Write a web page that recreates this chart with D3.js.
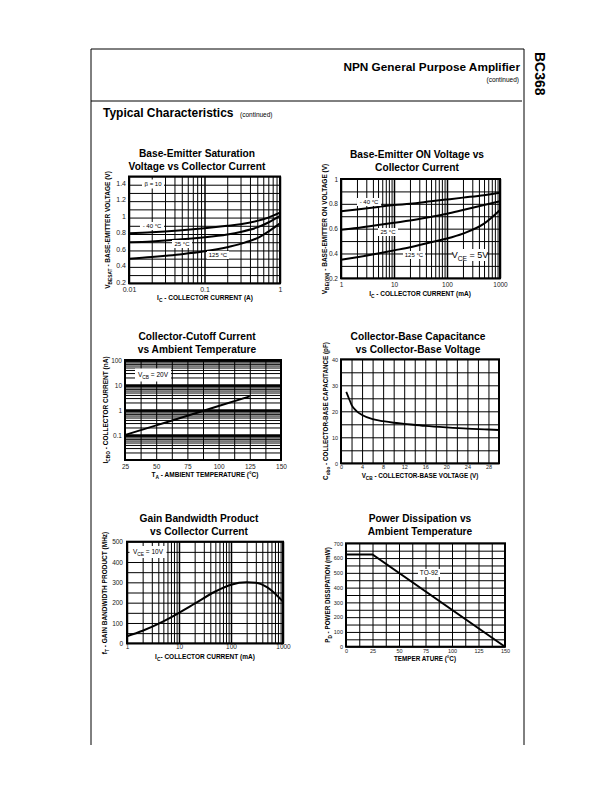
<!DOCTYPE html>
<html><head><meta charset="utf-8">
<script src="https://cdn.jsdelivr.net/npm/d3@7"></script>
<style>
html,body{margin:0;padding:0;background:#fff;}
svg{display:block;font-family:"Liberation Sans",Arial,Helvetica,sans-serif;}
</style></head>
<body>
<svg id="page" width="612" height="792"></svg>
<script>
// ---------- DATA ----------
// Chart 1: Base-Emitter Saturation Voltage vs Collector Current (A)
const c1Current = [0.01,0.02,0.03,0.05,0.1,0.2,0.3,0.5,0.7,1];
const c1VbeM40  = [0.81,0.82,0.83,0.845,0.87,0.9,0.92,0.96,1.0,1.06];
const c1Vbe25   = [0.70,0.71,0.72,0.735,0.76,0.795,0.825,0.88,0.94,1.02];
const c1Vbe125  = [0.50,0.52,0.535,0.555,0.59,0.64,0.68,0.75,0.83,0.93];
const c1YTicks  = [0.2,0.4,0.6,0.8,1,1.2,1.4];
const c1XTicks  = [0.01,0.1,1];

// Chart 2: Base-Emitter ON Voltage vs Collector Current (mA)
const c2Current = [1,2,5,10,20,50,100,200,500,1000];
const c2VbeM40  = [0.74,0.755,0.775,0.79,0.80,0.82,0.835,0.85,0.87,0.89];
const c2Vbe25   = [0.59,0.605,0.63,0.648,0.665,0.695,0.72,0.75,0.79,0.82];
const c2Vbe125  = [0.35,0.37,0.40,0.425,0.45,0.49,0.52,0.56,0.64,0.75];
const c2YTicks  = [0.2,0.4,0.6,0.8,1];
const c2XTicks  = [1,10,100,1000];

// Chart 3: Collector-Cutoff Current vs Ambient Temperature
const c3Temp    = [25,50,75,100,125];
const c3Icbo    = [0.1,0.243,0.59,1.44,3.5];
const c3YTicks  = [0.1,1,10,100];
const c3XTicks  = [25,50,75,100,125,150];

// Chart 4: Collector-Base Capacitance vs Collector-Base Voltage
const c4Vcb     = [1,1.5,2,3,4,6,8,10,12,16,20,24,28,30];
const c4Cobo    = [27.5,25,22.5,20,18.6,17,16.2,15.6,15.2,14.4,13.8,13.3,13,12.8];
const c4YTicks  = [0,10,20,30,40];
const c4XTicks  = [0,4,8,12,16,20,24,28];

// Chart 5: Gain Bandwidth Product vs Collector Current (mA)
const c5Current = [1,2,5,10,20,50,100,200,300,500,700,1000];
const c5Ft      = [35,62,108,150,195,255,288,300,298,275,245,205];
const c5YTicks  = [0,100,200,300,400,500];
const c5XTicks  = [1,10,100,1000];

// Chart 6: Power Dissipation vs Ambient Temperature
const c6Temp    = [0,25,150];
const c6Pd      = [625,625,0];
const c6YTicks  = [0,100,200,300,400,500,600,700];
const c6XTicks  = [0,25,50,75,100,125,150];

// ---------- HELPERS ----------
const svg = d3.select("#page");
const FONT = '"Liberation Sans",Arial,Helvetica,sans-serif';

function logMinors(lo, hi){
  const out=[];
  for(let d=Math.log10(lo); d<Math.round(Math.log10(hi)); d++){
    const base=Math.pow(10,d);
    for(let m=2;m<=9;m++) out.push(+(base*m).toPrecision(6));
  }
  return out;
}
function linGrid(lo,hi,step){
  const out=[]; for(let v=lo; v<=hi+1e-9; v+=step) out.push(+v.toFixed(6)); return out;
}

function gridAxes(g, x, y, xMinor, xMajor, yMinor, yMajor, majorW){
  const w = x.range()[1]-x.range()[0], h = y.range()[0]-y.range()[1];
  const L=x.range()[0], B=y.range()[0], T=y.range()[1];
  const vg = g.append("g").attr("transform",`translate(0,${B})`)
    .call(d3.axisBottom(x).tickValues(xMinor).tickSize(-h).tickFormat(""));
  vg.select(".domain").remove(); vg.selectAll("line").attr("stroke","#000").attr("stroke-width",1);
  const vg2 = g.append("g").attr("transform",`translate(0,${B})`)
    .call(d3.axisBottom(x).tickValues(xMajor).tickSize(-h).tickFormat(""));
  vg2.select(".domain").remove(); vg2.selectAll("line").attr("stroke","#000").attr("stroke-width",majorW.x);
  const hg = g.append("g").attr("transform",`translate(${L},0)`)
    .call(d3.axisLeft(y).tickValues(yMinor).tickSize(-w).tickFormat(""));
  hg.select(".domain").remove(); hg.selectAll("line").attr("stroke","#000").attr("stroke-width",1);
  const hg2 = g.append("g").attr("transform",`translate(${L},0)`)
    .call(d3.axisLeft(y).tickValues(yMajor).tickSize(-w).tickFormat(""));
  hg2.select(".domain").remove(); hg2.selectAll("line").attr("stroke","#000").attr("stroke-width",majorW.y);
  g.append("rect").attr("x",L).attr("y",T).attr("width",w).attr("height",h)
    .attr("fill","none").attr("stroke","#000").attr("stroke-width",2);
}

function tickLabels(g, x, y, xTicks, yTicks, o){
  const B=y.range()[0], L=x.range()[0];
  const fmt = d=>String(d);
  const ax = g.append("g").attr("transform",`translate(0,${B})`)
    .call(d3.axisBottom(x).tickValues(xTicks).tickSize(0).tickPadding(o.px).tickFormat(fmt));
  ax.select(".domain").remove();
  ax.selectAll("text").attr("font-size",o.fs).attr("font-family",FONT).attr("fill","#222");
  const ay = g.append("g").attr("transform",`translate(${L},0)`)
    .call(d3.axisLeft(y).tickValues(yTicks).tickSize(0).tickPadding(o.py).tickFormat(fmt));
  ay.select(".domain").remove();
  ay.selectAll("text").attr("font-size",o.fs).attr("font-family",FONT).attr("fill","#222");
  if(o.ydy) ay.selectAll("text").attr("dy",o.ydy);
}

function title(lines, cx, y0){
  lines.forEach((t,i)=>svg.append("text").attr("x",cx).attr("y",y0+i*13)
    .attr("text-anchor","middle").attr("font-size",10.2).attr("font-weight","bold")
    .attr("font-family",FONT).text(t));
}
function label(parts, x, y, size, opts={}){
  let prevSub=false;
  const t = svg.append("text").attr("x",x).attr("y",y).attr("font-size",size)
    .attr("font-weight",opts.bold===false?"normal":"bold").attr("font-family",FONT)
    .attr("text-anchor",opts.anchor||"middle");
  if(opts.rotate) t.attr("transform",`rotate(-90,${x},${y})`);
  parts.forEach(([s,sub])=>{
    const ts=t.append("tspan").text(s);
    if(sub){ ts.attr("font-size",size*0.75).attr("dy",size*0.3); prevSub=true; }
    else { if(prevSub){ ts.attr("dy",-size*0.3);} prevSub=false; }
  });
  return t;
}
function boxLabel(text, x, y, size, w, h){
  svg.append("rect").attr("x",x-w/2).attr("y",y-h/2).attr("width",w).attr("height",h).attr("fill","#fff");
  return label(text, x, y+size*0.35, size, {bold:false});
}
function curve(g, x, y, xs, ys, sw){
  const pts = xs.map((v,i)=>[v,ys[i]]);
  g.append("path").datum(pts)
    .attr("d", d3.line().x(d=>x(d[0])).y(d=>y(d[1])).curve(d3.curveMonotoneX))
    .attr("fill","none").attr("stroke","#000").attr("stroke-width",sw||2);
}

// ---------- PAGE FRAME ----------
svg.append("path").attr("d","M91,745 L91,49 L524,49 L524,745").attr("fill","none").attr("stroke","#000").attr("stroke-width",1);
svg.append("line").attr("x1",91).attr("x2",522).attr("y1",101).attr("y2",101).attr("stroke","#000").attr("stroke-width",1);
svg.append("text").attr("x",520).attr("y",71).attr("text-anchor","end").attr("font-size",11.8)
  .attr("font-weight","bold").attr("font-family",FONT).text("NPN General Purpose Amplifier");
svg.append("text").attr("x",519).attr("y",82).attr("text-anchor","end").attr("font-size",6.5)
  .attr("font-family",FONT).text("(continued)");
svg.append("text").attr("x",103).attr("y",117).attr("font-size",12)
  .attr("font-weight","bold").attr("font-family",FONT).text("Typical Characteristics");
svg.append("text").attr("x",240).attr("y",117).attr("font-size",6.5)
  .attr("font-family",FONT).text("(continued)");
svg.append("text").attr("x",0).attr("y",0).attr("transform","translate(535,52) rotate(90)")
  .attr("font-size",14).attr("font-weight","bold").attr("font-family",FONT).text("BC368");

// ---------- CHART 1 ----------
{
  const g = svg.append("g");
  const x = d3.scaleLog().domain([0.01,1]).range([129,280]);
  const y = d3.scaleLinear().domain([0.2,1.5]).range([283.3,176.5]);
  gridAxes(g,x,y,logMinors(0.01,1),c1XTicks,linGrid(0.2,1.5,0.1),[],{x:1.5,y:1});
  curve(g,x,y,c1Current,c1VbeM40); curve(g,x,y,c1Current,c1Vbe25); curve(g,x,y,c1Current,c1Vbe125);
  tickLabels(g,x,y,c1XTicks,c1YTicks,{fs:7,px:3.5,py:3,ydy:"0.1em"});
  title(["Base-Emitter Saturation","Voltage vs Collector Current"],197,157);
  boxLabel([["β  = 10",false]],153,184,6,22,9);
  boxLabel([["- 40 °C",false]],152,226,6,24,8);
  boxLabel([["25 °C",false]],182,244,6,20,8);
  boxLabel([["125 °C",false]],218,255,6,22,8);
  label([["I",false],["C",true],[" - COLLECTOR CURRENT  (A)",false]],205,300,6.5);
  label([["V",false],["BESAT",true],[" - BASE-EMITTER VOLTAGE (V)",false]],110,230,6.5,{rotate:true});
}

// ---------- CHART 2 ----------
{
  const g = svg.append("g");
  const x = d3.scaleLog().domain([1,1000]).range([341,500]);
  const y = d3.scaleLinear().domain([0.2,1]).range([278.3,179]);
  gridAxes(g,x,y,logMinors(1,1000),c2XTicks,linGrid(0.2,1,0.1),[],{x:1.5,y:1});
  curve(g,x,y,c2Current,c2VbeM40); curve(g,x,y,c2Current,c2Vbe25); curve(g,x,y,c2Current,c2Vbe125);
  tickLabels(g,x,y,c2XTicks,c2YTicks,{fs:6.5,px:4,py:3});
  title(["Base-Emitter ON Voltage vs","Collector Current"],417,158);
  boxLabel([["- 40 °C",false]],369,202,6,24,8);
  boxLabel([["25 °C",false]],388,232,6,20,8);
  boxLabel([["125 °C",false]],414,255,6,22,8);
  boxLabel([["V",false],["CE",true],[" = 5V",false]],470,255,9,34,12);
  label([["I",false],["C",true],[" - COLLECTOR CURRENT  (mA)",false]],420,296,6.5);
  label([["V",false],["BE(ON)",true],[" - BASE-EMITTER ON VOLTAGE (V)",false]],327,229,6.5,{rotate:true});
}

// ---------- CHART 3 ----------
{
  const g = svg.append("g");
  const x = d3.scaleLinear().domain([25,150]).range([125,281]);
  const y = d3.scaleLog().domain([0.01,100]).range([460,360]);
  gridAxes(g,x,y,linGrid(25,150,12.5),[],logMinors(0.01,100),[0.1,1,10,100],{x:1,y:2.5});
  curve(g,x,y,c3Temp,c3Icbo);
  tickLabels(g,x,y,c3XTicks,c3YTicks,{fs:6.5,px:4,py:3});
  title(["Collector-Cutoff Current","vs Ambient Temperature"],197,340);
  boxLabel([["V",false],["CB",true],[" = 20V",false]],153,375,6.5,36,13);
  label([["T",false],["A",true],[" - AMBIENT TEMPERATURE (°C)",false]],205,477,6.5);
  label([["I",false],["CBO",true],[" - COLLECTOR CURRENT (nA)",false]],108,410,6.5,{rotate:true});
}

// ---------- CHART 4 ----------
{
  const g = svg.append("g");
  const x = d3.scaleLinear().domain([0,30]).range([341,499]);
  const y = d3.scaleLinear().domain([0,40]).range([463.3,359.3]);
  gridAxes(g,x,y,linGrid(0,30,2),[],linGrid(0,40,5),[],{x:1,y:1});
  curve(g,x,y,c4Vcb,c4Cobo,1.8);
  tickLabels(g,x,y,c4XTicks,c4YTicks,{fs:5.5,px:1.5,py:3});
  title(["Collector-Base Capacitance","vs Collector-Base Voltage"],418,340);
  label([["V",false],["CB",true],[" - COLLECTOR-BASE VOLTAGE (V)",false]],420,478,6.3);
  label([["C",false],["obo",true],[" - COLLECTOR-BASE CAPACITANCE (pF)",false]],328,411,6.3,{rotate:true});
}

// ---------- CHART 5 ----------
{
  const g = svg.append("g");
  const x = d3.scaleLog().domain([1,1000]).range([127,283]);
  const y = d3.scaleLinear().domain([0,500]).range([643.3,541.7]);
  gridAxes(g,x,y,logMinors(1,1000),c5XTicks,linGrid(0,500,50),[],{x:1.5,y:1});
  curve(g,x,y,c5Current,c5Ft);
  tickLabels(g,x,y,c5XTicks,c5YTicks,{fs:6.5,px:1.5,py:4});
  title(["Gain Bandwidth Product","vs Collector Current"],199,522);
  boxLabel([["V",false],["CE",true],[" = 10V",false]],148,552,6.5,37,12);
  label([["I",false],["C",true],["- COLLECTOR CURRENT  (mA)",false]],205,659,6.5);
  label([["f",false],["T",true],[" - GAIN BANDWIDTH PRODUCT (MHz)",false]],107,593,6.5,{rotate:true});
}

// ---------- CHART 6 ----------
{
  const g = svg.append("g");
  const x = d3.scaleLinear().domain([0,150]).range([346,505]);
  const y = d3.scaleLinear().domain([0,700]).range([646.7,543.3]);
  gridAxes(g,x,y,linGrid(0,150,12.5),[],linGrid(0,700,50),[],{x:1,y:1});
  g.append("path").datum(c6Temp.map((v,i)=>[v,c6Pd[i]]))
    .attr("d",d3.line().x(d=>x(d[0])).y(d=>y(d[1])))
    .attr("fill","none").attr("stroke","#000").attr("stroke-width",2);
  tickLabels(g,x,y,c6XTicks,c6YTicks,{fs:5.5,px:2,py:3});
  title(["Power Dissipation vs","Ambient Temperature"],420,522);
  boxLabel([["TO-92",false]],429,573,6.5,22,8);
  label([["TEMPER ATURE  (°C)",false]],425,661,6.3);
  label([["P",false],["D",true],[" - POWER DISSIPATION (mW)",false]],330,595,6.3,{rotate:true});
}
</script>
</body></html>
